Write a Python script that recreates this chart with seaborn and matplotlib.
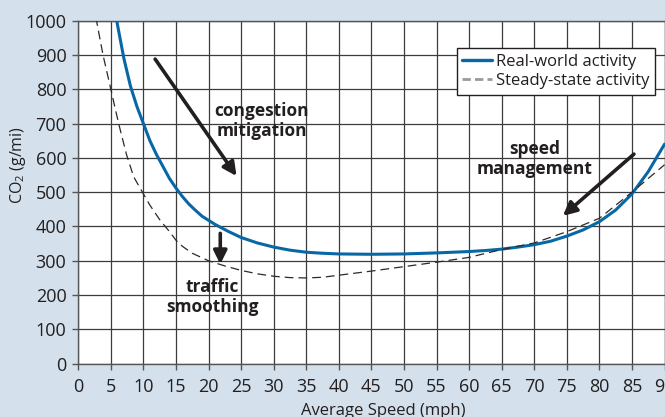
import numpy as np
import pandas as pd
import matplotlib
matplotlib.use("Agg")
import matplotlib.pyplot as plt
from matplotlib.lines import Line2D
import seaborn as sns

# values
speed_real = [5.5, 6, 7, 8, 9, 10, 11, 12, 13, 14, 15, 16, 17, 18, 19, 20, 21, 22, 23, 24, 25,
              27.5, 30, 32.5, 35, 37.5, 40, 45, 50, 55, 60, 62.5, 65, 67.5, 70, 72.5, 75,
              77.5, 80, 82.5, 85, 87.5, 90]
co2_real = [1050, 990, 890, 810, 750, 700, 650, 610, 575, 540, 512, 487, 465, 447, 430, 418, 406,
            396, 386, 377, 368, 352, 340, 331, 325, 322, 320, 319, 320, 323, 327, 330, 334, 340,
            347, 357, 372, 390, 414, 448, 495, 560, 640]

speed_steady = [2.5, 2.8, 3.8, 5, 6.2, 7.4, 8.5, 10, 11, 12.5, 14, 15, 16, 17.5, 20, 22.5, 25,
                27.5, 30, 32.5, 35, 37.5, 40, 45, 50, 55, 60, 65, 70, 75, 80, 85, 90]
co2_steady = [1050, 1000, 900, 800, 700, 610, 545, 495, 462, 420, 385, 360, 342, 322, 300, 285,
              272, 262, 255, 251, 250, 252, 258, 270, 283, 296, 310, 333, 352, 385, 424, 500, 580]

x_ticks = list(range(0, 95, 5))
y_ticks = list(range(0, 1100, 100))

# annotations: (label, text position, arrow start, arrow end)
notes = [
    ("congestion\nmitigation", (28.2, 708), (11.8, 888), (24.3, 547)),
    ("traffic\nsmoothing", (20.6, 194), (21.8, 380), (21.8, 290)),
    ("speed\nmanagement", (70.0, 597), (85.3, 611), (74.4, 431)),
]

sns.set_style("ticks")
plt.rcParams['font.family'] = ['Open Sans', 'DejaVu Sans']
plt.rcParams['mathtext.default'] = 'regular'

bg = "#d4e1ec"
ink = "#231f20"
blue = "#0868a6"

fig = plt.figure(figsize=(6.65, 4.17), dpi=100, facecolor=bg)
ax = fig.add_axes([0.1177, 0.1278, 0.8816, 0.8226])
ax.set_facecolor("white")

real = pd.DataFrame({"speed": speed_real, "co2": co2_real})
steady = pd.DataFrame({"speed": speed_steady, "co2": co2_steady})

sns.lineplot(data=real, x="speed", y="co2", ax=ax, color=blue, lw=2.2, zorder=3)
sns.lineplot(data=steady, x="speed", y="co2", ax=ax, color="#2a2a2a", lw=0.9,
             dashes=False, zorder=3)
ax.lines[-1].set_dashes((7, 4))

ax.set_xlim(0, 90)
ax.set_ylim(0, 1000)
ax.set_xticks(x_ticks)
ax.set_yticks(y_ticks)
ax.set_xlabel("")
ax.set_ylabel("")
ax.grid(True, color="#3c3c3c", lw=0.9, zorder=0)
ax.set_axisbelow(True)
for s in ax.spines.values():
    s.set_color("#555555")
    s.set_linewidth(1)
ax.tick_params(axis="both", direction="out", length=4.5, width=1, color="#555555",
               labelsize=13, labelcolor=ink)
ax.tick_params(axis="x", pad=6)
ax.tick_params(axis="y", pad=4)

for label, (tx, ty), start, end in notes:
    ax.text(tx, ty, label, ha="center", va="center", fontsize=12.5, fontweight="bold",
            color=ink, linespacing=1.1, zorder=4)
    ax.annotate("", xy=end, xytext=start,
                arrowprops=dict(arrowstyle="-|>", color=ink, lw=2.6, mutation_scale=20,
                                shrinkA=0, shrinkB=0), zorder=4)

handles = [Line2D([], [], color=blue, lw=2.4),
           Line2D([], [], color="#9a9a9a", lw=2.0, dashes=(3, 1.5))]
leg = ax.legend(handles, ["Real-world activity", "Steady-state activity"],
                loc="upper right", bbox_to_anchor=(0.984, 0.92), borderaxespad=0,
                fontsize=12, frameon=True, fancybox=False, handlelength=1.8,
                handletextpad=0.2, borderpad=0.35, labelspacing=0.2)
leg.get_frame().set_edgecolor("#231f20")
leg.get_frame().set_linewidth(1)
leg.get_frame().set_alpha(1)
for t in leg.get_texts():
    t.set_color(ink)

fig.text(18 / 665, 1 - 165 / 417, "CO$_2$ (g/mi)", rotation=90, ha="center", va="center",
         fontsize=11.5, color=ink)
fig.text(383 / 665, 1 - 411 / 417, "Average Speed (mph)", ha="center", va="center",
         fontsize=12, color=ink)

fig.savefig("out.png", dpi=100, facecolor=bg)
